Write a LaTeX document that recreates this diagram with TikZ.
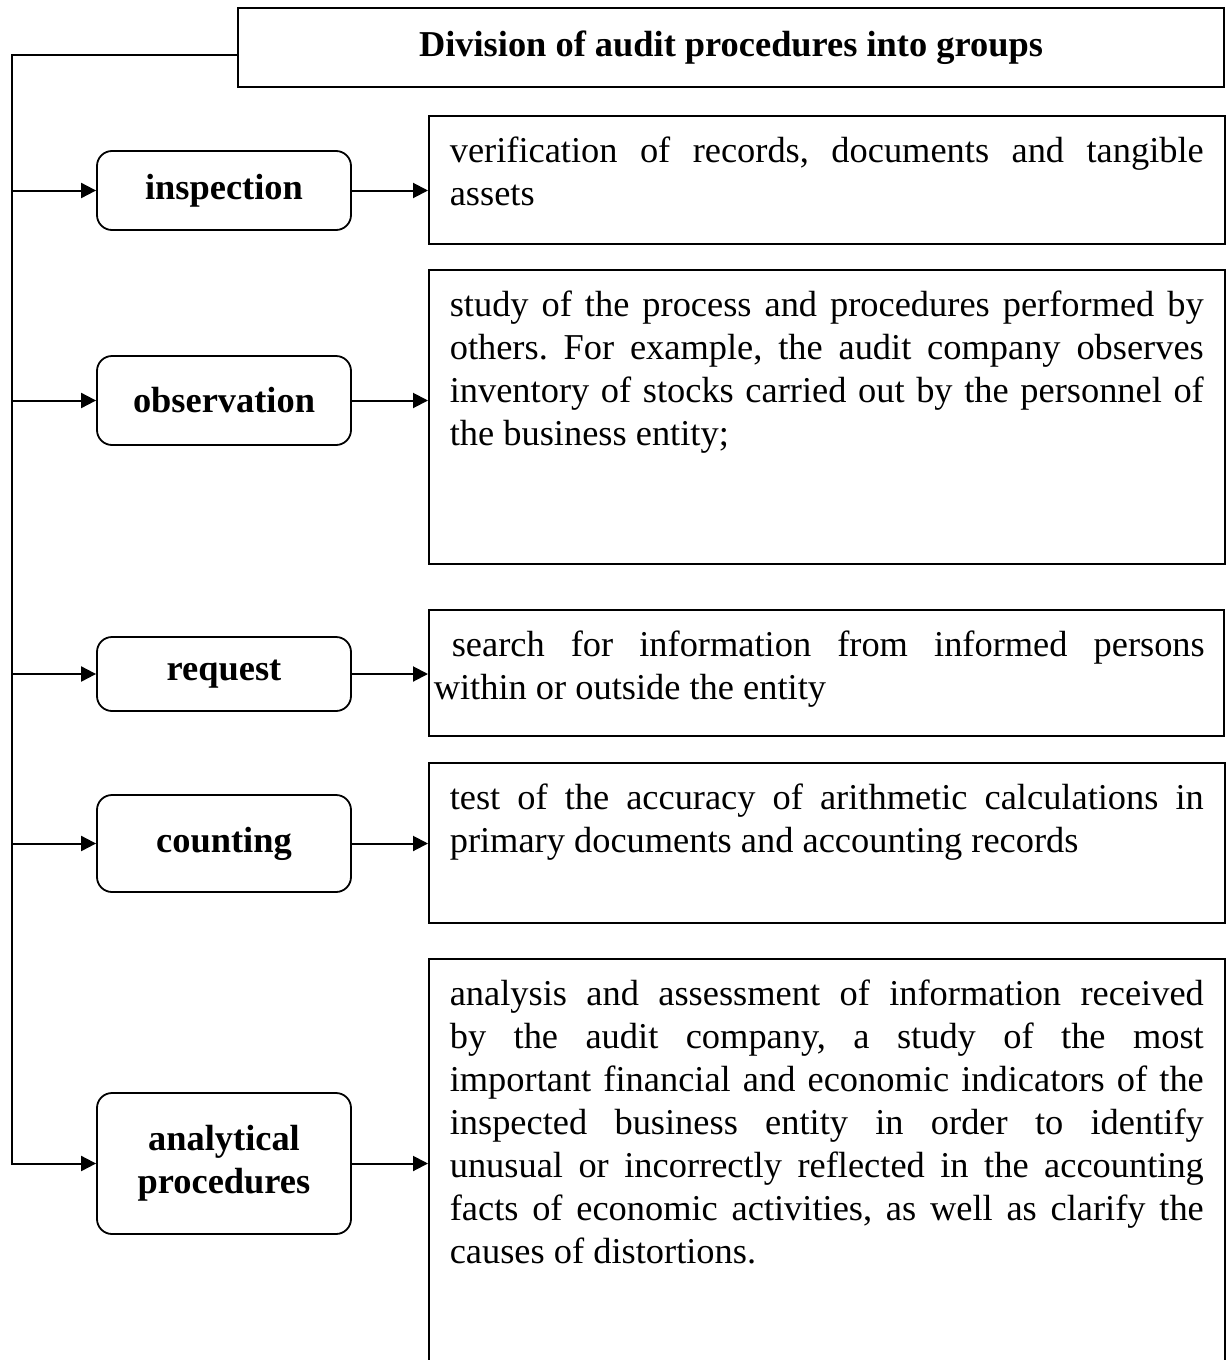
\documentclass[tikz,border=0pt]{standalone}
\usepackage{fontspec}
\setmainfont{Liberation Serif}
\usetikzlibrary{arrows.meta}
\frenchspacing
\newcommand{\desctext}[3][377pt]{\parbox[t][#2][t]{#1}{\rule{0pt}{23.5pt}#3}}

\begin{document}
\begin{tikzpicture}[x=0.5pt, y=-0.5pt,
  grp/.style={draw, line width=0.9pt, rounded corners=7.5pt, minimum width=127pt, align=center, font=\fontsize{18.2}{21.5}\selectfont\bfseries},
  dsc/.style={draw, line width=0.8pt, anchor=north west, inner xsep=10.5pt, inner ysep=0pt, font=\fontsize{18.2}{21.5}\selectfont},
  arr/.style={line width=1pt, -{Triangle[length=7.5pt,width=7.5pt]}}]
  \useasboundingbox (0,0) rectangle (1227,1360);
  \clip (0,0) rectangle (1227,1360);
  \node[draw, line width=0.9pt, minimum width=493pt, minimum height=39.5pt, font=\fontsize{18.2}{21.5}\selectfont\bfseries] (title) at (731,47.5) {Division of audit procedures into groups};
  \node[grp, minimum height=39.5pt] (insp) at (224,190.5) {inspection};
  \node[grp, minimum height=44.5pt] (obs) at (224,400.5) {observation};
  \node[grp, minimum height=37pt] (req) at (224,674) {request};
  \node[grp, minimum height=48.5pt] (cnt) at (224,843.5) {counting};
  \node[grp, minimum height=70.5pt] (anal) at (224,1163.5) {analytical\\procedures};
  \node[dsc] (d1) at (428,115) {\desctext{64pt}{verification of records, documents and tangible\linebreak assets}};
  \node[dsc] (d2) at (428,269) {\desctext{147pt}{study of the process and procedures performed by\linebreak others. For example, the audit company observes\linebreak inventory of stocks carried out by the personnel of\linebreak the business entity;}};
  \node[dsc, inner xsep=2.5pt] (d3) at (428,609) {\desctext[385.5pt]{63pt}{\hspace*{9pt}search for information from informed persons\linebreak within or outside the entity}\rule{7pt}{0pt}};
  \node[dsc] (d4) at (428,762) {\desctext{80pt}{test of the accuracy of arithmetic calculations in\linebreak primary documents and accounting records}};
  \node[dsc] (d5) at (428,958) {\desctext{211pt}{analysis and assessment of information received\linebreak by the audit company, a study of the most\linebreak important financial and economic indicators of the\linebreak inspected business entity in order to identify\linebreak unusual or incorrectly reflected in the accounting\linebreak facts of economic activities, as well as clarify the\linebreak causes of distortions.}};
  % trunk on the left
  \coordinate (tr) at (12,55);
  \draw[arr] ([yshift=-3.75pt]title.west) -- (tr) |- (anal.west);
  \foreach \n in {insp,obs,req,cnt}
    \draw[arr] (tr |- \n.west) -- (\n.west);
  \foreach \n/\d in {insp/d1,obs/d2,req/d3,cnt/d4,anal/d5}
    \draw[arr] (\n.east) -- (\n.east -| \d.west);
\end{tikzpicture}
\end{document}
